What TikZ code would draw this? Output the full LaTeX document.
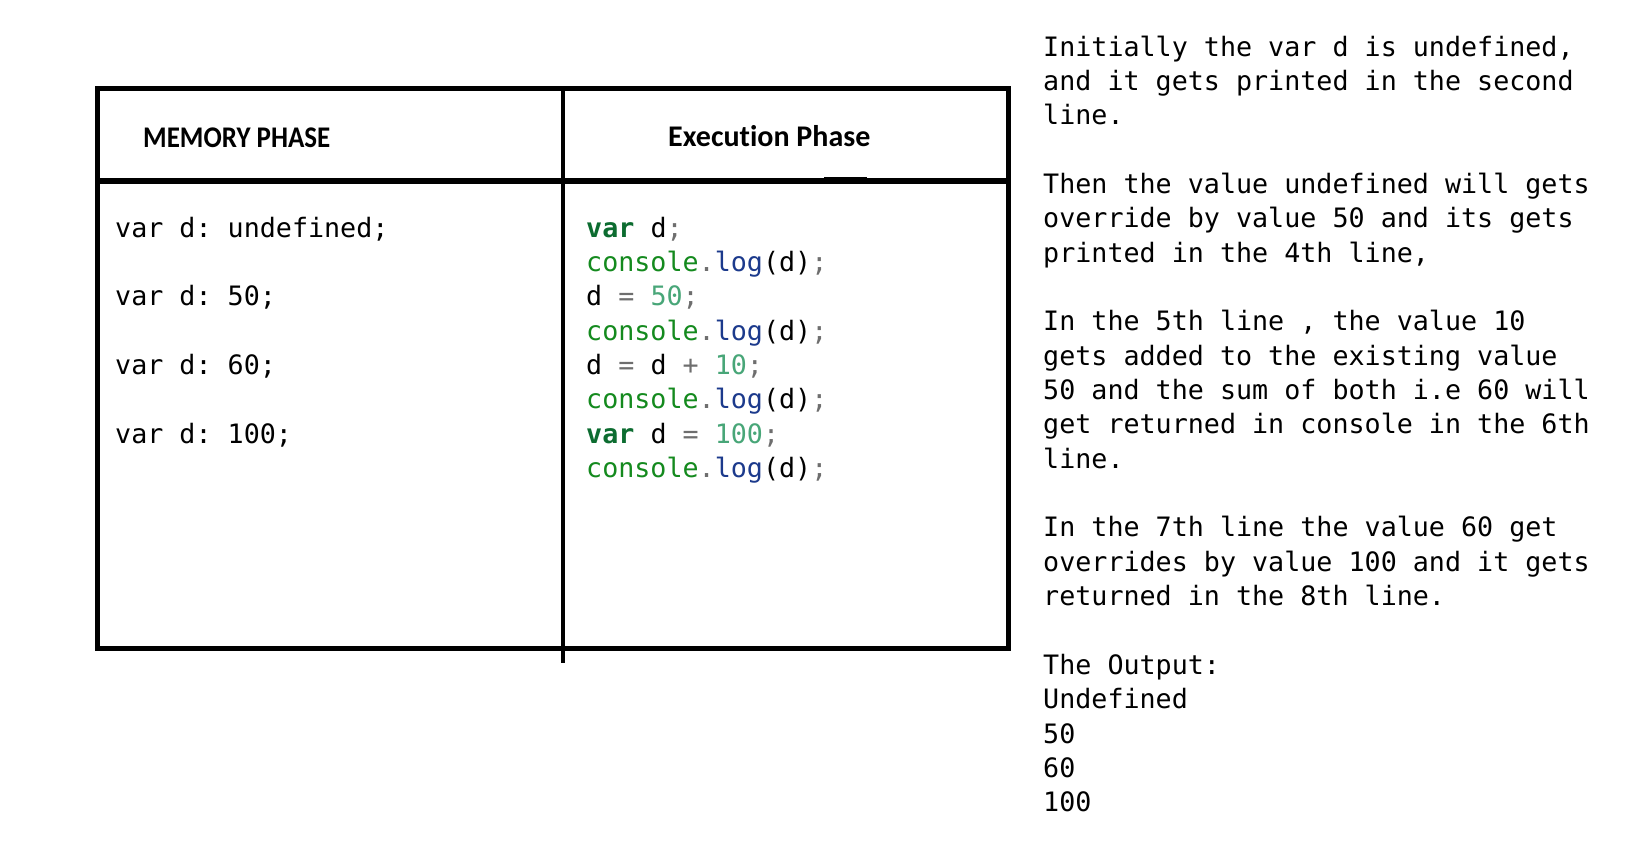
\documentclass[tikz,border=0pt]{standalone}
\usepackage{fontspec}
\newfontfamily\codefont{DejaVu Sans Mono}
\newfontfamily\headfont[Ligatures=NoCommon]{Carlito}
\definecolor{kwcol}{RGB}{12,108,48}
\definecolor{concol}{RGB}{20,138,30}
\definecolor{logcol}{RGB}{28,58,140}
\definecolor{numcol}{RGB}{72,166,120}
\definecolor{puncol}{RGB}{110,110,110}
\newcommand\mykw[1]{{\color{kwcol}\bfseries #1}}
\newcommand\mycn[1]{{\color{concol}#1}}
\newcommand\mylg[1]{{\color{logcol}#1}}
\newcommand\mynm[1]{{\color{numcol}#1}}
\newcommand\mypn[1]{{\color{puncol}#1}}
\newcommand\myclog{\hbox{\mycn{console}\mypn{.}\mylg{log}(d)\mypn{;}}}
\tikzset{
  frameline/.style={line width=5pt, black},
  monotext/.style={anchor=base west, inner sep=0pt, font=\codefont\frenchspacing\fontsize{26.7}{34.35}\selectfont},
  headtext/.style={anchor=base west, inner sep=0pt, font=\headfont\bfseries\fontsize{30}{34}\selectfont}
}
\begin{document}
\begin{tikzpicture}[x=1pt,y=-1pt]
\useasboundingbox[fill=white] (0,0) rectangle (1626,865);
% table frame
\coordinate (tl) at (97.5,88.5);
\coordinate (br) at (1008.5,648.5);
\draw[frameline] (tl) rectangle (br);
\coordinate (hl) at (97.5,181);
\coordinate (hr) at (1008.5,181);
\draw[line width=6pt] (hl) -- (hr);
\coordinate (mt) at (563,88.5);
\coordinate (mb) at (563,663);
\draw[line width=4pt] (mt) -- (mb);
\fill (824,177) rectangle (867,184);
% headers
\node[headtext] (memhead) at (143,147) {\scalebox{0.9}[1]{MEMORY PHASE}};
\node[headtext] (exehead) at (668,146) {Execution Phase};
% memory phase
\node[monotext] (mem) at (115,237) {\vtop{%
\hbox{var d: undefined;}\hbox{}%
\hbox{var d: 50;}\hbox{}%
\hbox{var d: 60;}\hbox{}%
\hbox{var d: 100;}}};
% execution phase code
\node[monotext] (code) at (586,237) {\vtop{%
\hbox{\mykw{var} d\mypn{;}}%
\myclog
\hbox{d \mypn{=} \mynm{50}\mypn{;}}%
\myclog
\hbox{d \mypn{=} d \mypn{+} \mynm{10}\mypn{;}}%
\myclog
\hbox{\mykw{var} d \mypn{=} \mynm{100}\mypn{;}}%
\myclog}};
% explanation
\node[monotext] (expl) at (1043,56) {\vtop{%
\hbox{Initially the var d is undefined,}%
\hbox{and it gets printed in the second}%
\hbox{line.}%
\hbox{}%
\hbox{Then the value undefined will gets}%
\hbox{override by value 50 and its gets}%
\hbox{printed in the 4th line,}%
\hbox{}%
\hbox{In the 5th line , the value 10}%
\hbox{gets added to the existing value}%
\hbox{50 and the sum of both i.e 60 will}%
\hbox{get returned in console in the 6th}%
\hbox{line.}%
\hbox{}%
\hbox{In the 7th line the value 60 get}%
\hbox{overrides by value 100 and it gets}%
\hbox{returned in the 8th line.}%
\hbox{}%
\hbox{The Output:}%
\hbox{Undefined}%
\hbox{50}%
\hbox{60}%
\hbox{100}}};
\end{tikzpicture}
\end{document}
